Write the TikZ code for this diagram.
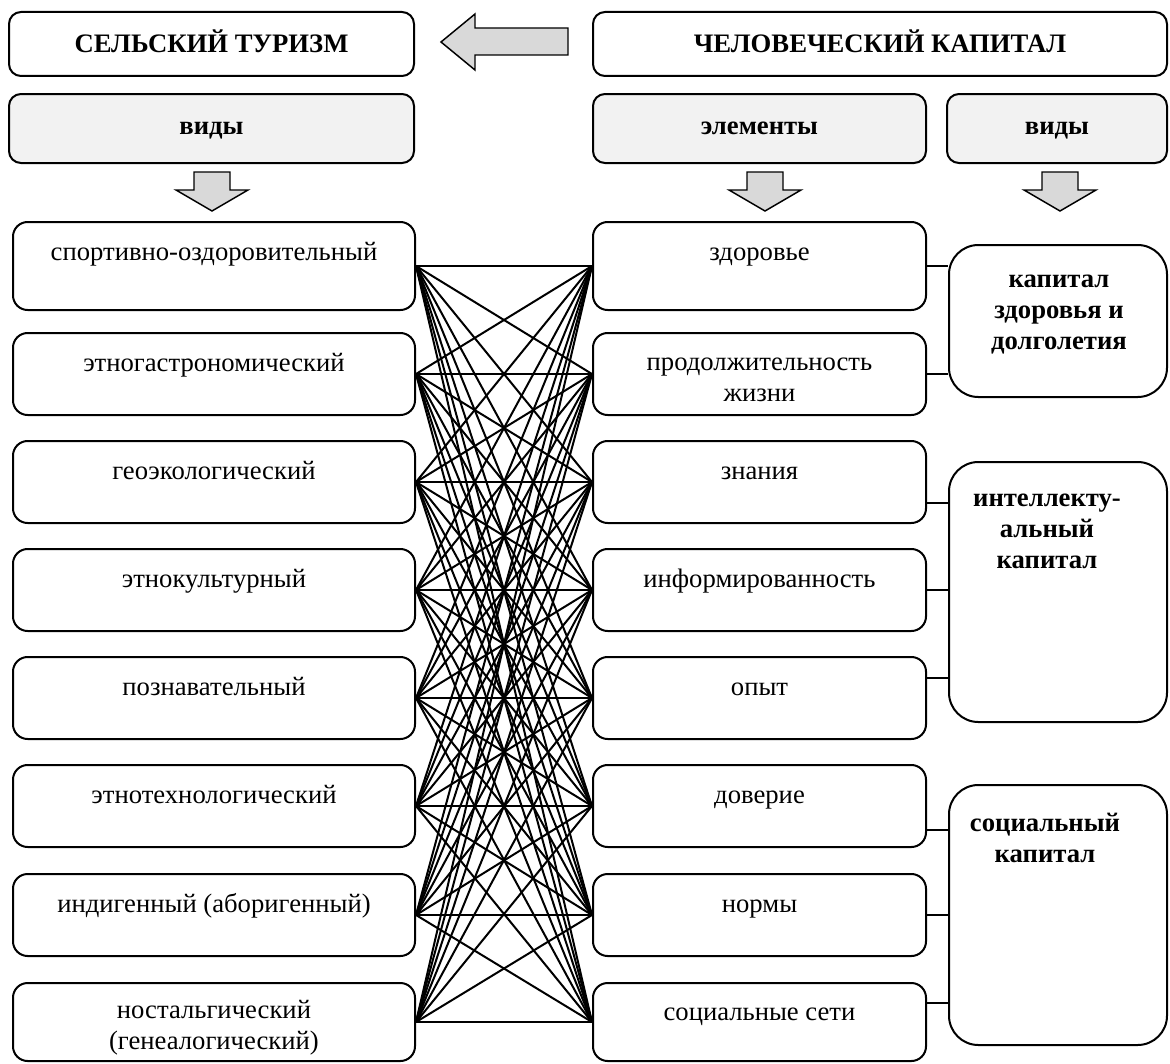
\documentclass[tikz,border=0pt]{standalone}
\usepackage{fontspec}
\setmainfont{Liberation Serif}

\definecolor{headfill}{RGB}{242,242,242}
\definecolor{arrowfill}{RGB}{217,217,217}

\tikzset{
	every picture/.style={line width=1.5pt},
	box/.style={draw, rounded corners=11pt, inner sep=0pt},
	headbox/.style={box, rounded corners=9pt, text height=13.2pt, text depth=0pt, font=\fontsize{20}{23}\selectfont\bfseries},
	viewbox/.style={headbox, fill=headfill, text height=9pt, minimum height=51.75pt},
	itembox/.style={box, minimum height=61.5pt},
	capbox/.style={box, rounded corners=22pt, minimum width=163.5pt},
	txt/.style={inner sep=0pt, align=center, font=\fontsize{20}{23}\selectfont},
	captxt/.style={txt, font=\fontsize{20}{23}\selectfont\bfseries},
	link/.style={line width=1.5pt},
	blockarrow/.style={fill=arrowfill, line width=1.1pt, line join=miter}}

\begin{document}
\begin{tikzpicture}[x=0.75pt,y=0.75pt,yscale=-1,xscale=1]
	\useasboundingbox (0,0) rectangle (1170,1063);

	%Shape: Header boxes
	\node[headbox, minimum width=303.75pt, minimum height=48pt] (rural) at (211.5,44) {СЕЛЬСКИЙ ТУРИЗМ};
	\node[headbox, minimum width=430.5pt, minimum height=48pt] (human) at (880,44) {ЧЕЛОВЕЧЕСКИЙ КАПИТАЛ};
	\node[viewbox, minimum width=303.75pt] (ruralkinds) at (211.5,128.5) {виды};
	\node[viewbox, minimum width=249.75pt] (elements) at (759.5,128.5) {элементы};
	\node[viewbox, minimum width=165pt] (capkinds) at (1057,128.5) {виды};

	%Left Arrow
	\draw[blockarrow] (568,28) -- (475,28) -- (475,14) -- (441,42) -- (475,70) -- (475,55) -- (568,55) -- cycle;
	%Down Arrows
	\draw[blockarrow] (194,172) -- (230,172) -- (230,190) -- (248,190) -- (212,211) -- (176,190) -- (194,190) -- cycle;
	\draw[blockarrow] (747,172) -- (783,172) -- (783,190) -- (801,190) -- (765,211) -- (729,190) -- (747,190) -- cycle;
	\draw[blockarrow] (1042,172) -- (1078,172) -- (1078,190) -- (1096,190) -- (1060,211) -- (1024,190) -- (1042,190) -- cycle;

	%Shape: Rural tourism kinds
	\node[itembox, minimum width=301.5pt, minimum height=66pt] (L1) at (214,266) {};
	\node[itembox, minimum width=301.5pt] (L2) at (214,374) {};
	\node[itembox, minimum width=301.5pt] (L3) at (214,482) {};
	\node[itembox, minimum width=301.5pt] (L4) at (214,590) {};
	\node[itembox, minimum width=301.5pt] (L5) at (214,698) {};
	\node[itembox, minimum width=301.5pt] (L6) at (214,806) {};
	\node[itembox, minimum width=301.5pt] (L7) at (214,915) {};
	\node[itembox, minimum width=301.5pt, minimum height=58.5pt] (L8) at (214,1022) {};

	%Shape: Elements of human capital
	\node[itembox, minimum width=249.75pt, minimum height=66pt] (E1) at (759.5,266) {};
	\node[itembox, minimum width=249.75pt] (E2) at (759.5,374) {};
	\node[itembox, minimum width=249.75pt] (E3) at (759.5,482) {};
	\node[itembox, minimum width=249.75pt] (E4) at (759.5,590) {};
	\node[itembox, minimum width=249.75pt] (E5) at (759.5,698) {};
	\node[itembox, minimum width=249.75pt] (E6) at (759.5,806) {};
	\node[itembox, minimum width=249.75pt] (E7) at (759.5,915) {};
	\node[itembox, minimum width=249.75pt, minimum height=58.5pt] (E8) at (759.5,1022) {};

	%Shape: Kinds of capital
	\node[capbox, minimum height=114pt] (C1) at (1058,321) {};
	\node[capbox, minimum height=195pt] (C2) at (1058,592) {};
	\node[capbox, minimum height=195pt] (C3) at (1058,915) {};

	% Text Node (base = last line)
	\node[txt, anchor=base] (tL1) at (214,260) {спортивно-оздоровительный};
	\node[txt, anchor=base] (tL2) at (214,371) {этногастрономический};
	\node[txt, anchor=base] (tL3) at (214,479) {геоэкологический};
	\node[txt, anchor=base] (tL4) at (214,587) {этнокультурный};
	\node[txt, anchor=base] (tL5) at (214,695) {познавательный};
	\node[txt, anchor=base] (tL6) at (214,803) {этнотехнологический};
	\node[txt, anchor=base] (tL7) at (214,912) {индигенный (аборигенный)};
	\node[txt, anchor=base] (tL8) at (214,1049) {ностальгический\\(генеалогический)};

	% Text Node
	\node[txt, anchor=base] (tE1) at (759.5,260) {здоровье};
	\node[txt, anchor=base] (tE2) at (759.5,401) {продолжительность\\жизни};
	\node[txt, anchor=base] (tE3) at (759.5,479) {знания};
	\node[txt, anchor=base] (tE4) at (759.5,587) {информированность};
	\node[txt, anchor=base] (tE5) at (759.5,695) {опыт};
	\node[txt, anchor=base] (tE6) at (759.5,803) {доверие};
	\node[txt, anchor=base] (tE7) at (759.5,912) {нормы};
	\node[txt, anchor=base] (tE8) at (759.5,1020) {социальные сети};

	% Text Node
	\node[captxt, anchor=base] (tC1) at (1059,349) {капитал\\здоровья и\\долголетия};
	\node[captxt, anchor=base] (tC2) at (1047,568) {интеллекту-\\альный\\капитал};
	\node[captxt, anchor=base] (tC3) at (1045,862) {социальный\\капитал};

	%Links between kinds and elements
	\foreach \i in {1,...,8}
		\foreach \j in {1,...,8}
			\draw[link] (L\i.east) -- (E\j.west);

	%Links to kinds of capital
	\draw (E1.east) -- (E1.east -| C1.west);
	\draw (E2.east) -- (E2.east -| C1.west);
	\draw (E3.east) ++(0,21) coordinate (e3) -- (e3 -| C2.west);
	\draw (E4.east) -- (E4.east -| C2.west);
	\draw (E5.east) ++(0,-20) coordinate (e5) -- (e5 -| C2.west);
	\draw (E6.east) ++(0,24) coordinate (e6) -- (e6 -| C3.west);
	\draw (E7.east) -- (E7.east -| C3.west);
	\draw (E8.east) ++(0,-19) coordinate (e8) -- (e8 -| C3.west);

\end{tikzpicture}
\end{document}
